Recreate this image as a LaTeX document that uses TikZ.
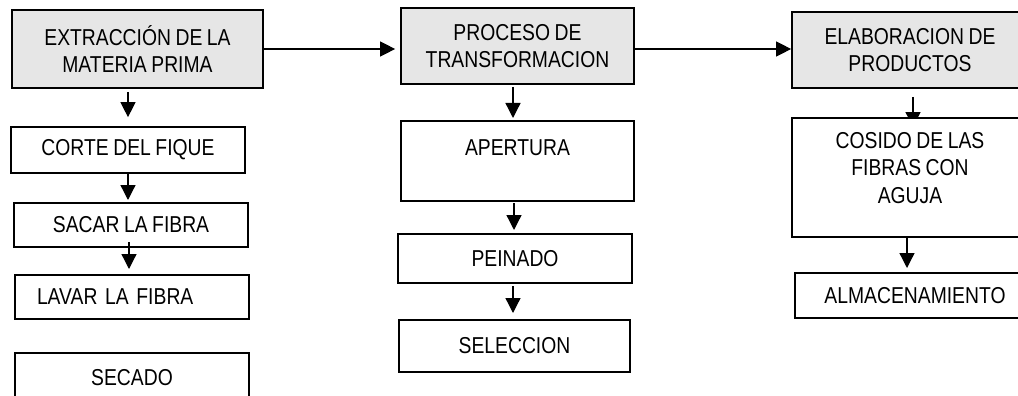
\documentclass[tikz,border=0pt]{standalone}
\usepackage{fontspec}
\setmainfont{Liberation Sans}[FakeStretch=0.84, WordSpace=0.85]
\usetikzlibrary{arrows.meta}
\definecolor{boxgray}{RGB}{230,230,230}
\tikzset{
  box/.style={draw=black, line width=1.7pt, fill=white, inner sep=0pt, align=center,
    font=\fontsize{23}{27.5}\selectfont},
  headbox/.style={box, fill=boxgray},
  arr/.style={line width=1.3pt, -{Triangle[width=15pt,length=15pt]}},
}
\begin{document}
\begin{tikzpicture}[x=1pt,y=-1pt]
\useasboundingbox (0,0) rectangle (1018,396);
\clip (0,0) rectangle (1018,396);
\fill[white] (0,0) rectangle (1018,396);
% column 1
\node[headbox, minimum width=251pt, minimum height=78pt] (ext) at (137.5,49) {EXTRACCIÓN DE LA\\MATERIA PRIMA};
\node[box, minimum width=234pt, minimum height=46pt] (corte) at (128,150) {CORTE DEL FIQUE};
\node[box, minimum width=234pt, minimum height=44pt] (sacar) at (131,225) {SACAR LA FIBRA};
\node[box, minimum width=234pt, minimum height=44pt, text width=190pt, align=left, inner xsep=22pt] (lavar) at (132,297) {LAVAR LA FIBRA};
\node[box, minimum width=234pt, minimum height=50pt] (secado) at (132,378) {SECADO};
% column 2
\node[headbox, minimum width=233pt, minimum height=76pt] (proc) at (517.5,46) {PROCESO DE\\TRANSFORMACION};
\node[box, minimum width=233pt, minimum height=80pt] (apert) at (517.5,161) {APERTURA\\\mbox{}};
\node[box, minimum width=234pt, minimum height=49pt] (pein) at (515,258.5) {PEINADO};
\node[box, minimum width=231pt, minimum height=52pt] (selec) at (514.5,346) {SELECCION};
% column 3
\node[headbox, minimum width=236pt, minimum height=76pt] (elab) at (910,50) {ELABORACION DE\\PRODUCTOS};
\coordinate (ecTop) at (913,97);
\coordinate (ecTip) at (913,127);
\draw[arr] (ecTop) -- (ecTip);
\node[box, minimum width=236pt, minimum height=119pt] (cosido) at (910,177.5) {COSIDO DE LAS\\FIBRAS CON\\AGUJA\\[-8pt]\mbox{}};
\node[box, minimum width=240pt, minimum height=45pt] (almac) at (915,295.5) {ALMACENAMIENTO};
% helper coordinates
\coordinate (h1) at (ext.east);
\coordinate (h1e) at ([xshift=-5pt]proc.west);
\coordinate (h2) at ([yshift=-3pt]proc.east);
\coordinate (c1s) at (128,92);
\coordinate (c1e) at ([yshift=9pt]corte.north);
\coordinate (c2e) at (128,200);
\coordinate (c3s) at (129,242);
\coordinate (c3e) at (129,269);
\coordinate (p1s) at (513,87);
\coordinate (p1e) at (513,118);
\coordinate (p2s) at (514,203);
\coordinate (p2e) at (514,230);
\coordinate (p3s) at (513,286);
\coordinate (p3e) at (513,313);
\coordinate (e2s) at (907,238);
\coordinate (e2e) at (907,268);
% horizontal connectors
\draw[arr] (h1) -- (h1e |- h1);
\draw[arr] (h2) -- (elab.west |- h2);
% vertical connectors
\draw[arr] (c1s) -- (c1e);
\draw[arr] (corte.south) -- (c2e);
\draw[arr] (c3s) -- (c3e);
\draw[arr] (p1s) -- (p1e);
\draw[arr] (p2s) -- (p2e);
\draw[arr] (p3s) -- (p3e);
\draw[arr] (e2s) -- (e2e);
\end{tikzpicture}
\end{document}
